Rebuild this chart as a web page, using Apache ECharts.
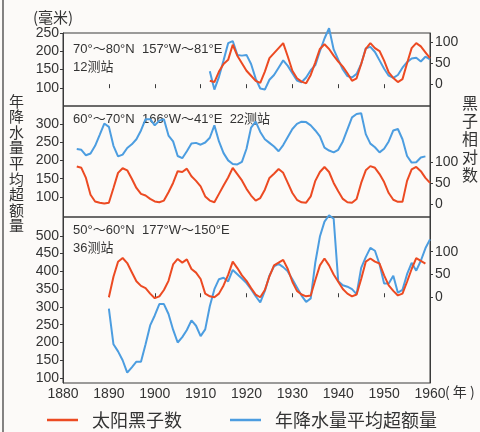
<!DOCTYPE html>
<html>
<head>
<meta charset="utf-8">
<script src="https://cdn.jsdelivr.net/npm/echarts@6/dist/echarts.min.js"></script>
<style>
  html, body { margin: 0; padding: 0; background: #fcfaf8; }
  #chart { width: 480px; height: 432px; }
</style>
</head>
<body>
<div id="chart"></div>
<script>
// ---- data: yearly values per latitude band ----
// 70°–80°N (12 stations), 1912–1960
const band1Start = 1912;
const band1Sunspots = [8, 5, 30, 48, 58, 94, 68, 50, 32, 20,
  8, 3, 30, 62, 74, 86, 98, 66, 32, 14,
  6, 2, 22, 52, 84, 95, 84, 68, 54, 42,
  26, 8, 14, 48, 84, 98, 86, 79, 56, 28,
  15, 5, 12, 50, 86, 98, 90, 76, 62];
const band1Rain = [145, 95, 130, 175, 222, 228, 190, 188, 190, 165,
  125, 98, 95, 122, 135, 155, 175, 160, 140, 120,
  115, 128, 148, 162, 200, 235, 263, 205, 177, 150,
  132, 128, 138, 165, 208, 212, 198, 175, 152, 133,
  127, 135, 155, 170, 180, 182, 172, 185, 178];

// 60°–70°N (22 stations), 1883–1960
const band2Start = 1883;
const band2Sunspots = [89, 86, 62, 22, 6, 3, 1, 3, 38, 74,
  85, 80, 60, 38, 24, 20, 12, 6, 4, 8,
  28, 50, 78, 76, 84, 66, 55, 42, 18, 8,
  4, 24, 44, 63, 86, 71, 56, 36, 20, 8,
  14, 34, 62, 72, 83, 74, 50, 26, 10, 4,
  3, 18, 55, 76, 88, 76, 50, 30, 12, 4,
  3, 12, 50, 80, 90, 86, 71, 52, 26, 10,
  5, 5, 55, 82, 88, 78, 62, 50];
const band2Rain = [231, 229, 214, 219, 240, 270, 301, 292, 240, 211,
  216, 234, 244, 258, 282, 313, 313, 296, 309, 313,
  268, 252, 212, 206, 225, 246, 248, 243, 249, 262,
  296, 252, 220, 200, 190, 189, 196, 232, 290, 306,
  278, 258, 248, 238, 225, 242, 264, 286, 300, 306,
  305, 296, 282, 266, 235, 227, 222, 229, 252, 285,
  318, 327, 329, 272, 246, 236, 222, 232, 252, 282,
  286, 258, 212, 194, 195, 208, 211];

// 50°–60°N (36 stations), 1890–1960
const band3Start = 1890;
const band3Sunspots = [0, 45, 78, 86, 75, 55, 35, 25, 20, 8,
  -2, 2, 16, 36, 72, 84, 76, 83, 62, 54,
  40, 8, 2, 0, 8, 26, 49, 78, 64, 48,
  36, 20, 6, 0, 16, 46, 70, 76, 82, 62,
  34, 14, 6, 2, 4, 38, 70, 85, 70, 50,
  34, 18, 8, 2, 6, 40, 78, 85, 78, 74,
  48, 26, 14, 4, 8, 34, 62, 86, 80, 74];
const band3Rain = [295, 195, 175, 150, 115, 130, 146, 146, 195, 248,
  276, 308, 308, 280, 236, 200, 215, 235, 262, 247,
  218, 237, 302, 350, 378, 382, 372, 404, 392, 380,
  367, 350, 330, 313, 345, 388, 414, 421, 412, 400,
  378, 355, 332, 314, 324, 425, 498, 540, 558, 548,
  372, 361, 357, 350, 336, 410, 440, 466, 458, 420,
  366, 366, 388, 340, 348, 392, 424, 402, 430, 465,
  490];

// axis tick labels
const yearTicks = [1880, 1890, 1900, 1910, 1920, 1930, 1940, 1950, 1960];
const sunspotTicks = [0, 50, 100];
const rain1Ticks = [100, 150, 200, 250];
const rain2Ticks = [100, 150, 200, 250, 300];
const rain3Ticks = [100, 150, 200, 250, 300, 350, 400, 450, 500];

const bandLabels = [
  ['70°～80°N  157°W～81°E', '12测站'],
  ['60°～70°N  166°W～41°E  22测站'],
  ['50°～60°N  177°W～150°E', '36测站']
];

const SUN_NAME = '太阳黑子数';
const RAIN_NAME = '年降水量平均超额量';
const RED = '#ec4a22';
const BLUE = '#4c9de0';
const INK = '#3a3a3a';
const NUM_FONT = '"Liberation Sans", Arial, sans-serif';
const CJK_FONT = '"Noto Sans CJK SC", sans-serif';

function pairs(start, values) {
  return values.map((v, i) => [start + i, v]);
}

// ---- layout of the three stacked panels ----
const plotLeft = 63, plotWidth = 367;
const panels = [
  { top: 33, height: 73, rain: [50, 250], sun: [-52, 122], rainTicks: rain1Ticks },
  { top: 106, height: 111, rain: [45, 349], sun: [-31, 233], rainTicks: rain2Ticks },
  { top: 217, height: 166, rain: [86, 553], sun: [-188, 176], rainTicks: rain3Ticks }
];

const grids = panels.map(p => ({
  left: plotLeft, top: p.top, width: plotWidth, height: p.height,
  show: true, borderColor: INK, borderWidth: 1, backgroundColor: 'transparent'
}));

const plain = v => String(v);

const xAxes = panels.map((p, i) => ({
  gridIndex: i, type: 'value', min: 1880, max: 1960, interval: 10,
  show: i !== 1,
  position: i === 0 ? 'top' : 'bottom',
  axisLine: { show: false },
  axisTick: { show: true, inside: true, length: 4, lineStyle: { color: INK } },
  axisLabel: {
    show: i === 2, margin: 4, fontSize: 14, color: '#333', fontFamily: NUM_FONT,
    showMinLabel: true, showMaxLabel: true, formatter: plain,
    customValues: yearTicks
  },
  splitLine: { show: false }
}));

const yAxes = [];
panels.forEach((p, i) => {
  yAxes.push({
    gridIndex: i, type: 'value', position: 'left', min: p.rain[0], max: p.rain[1],
    axisLine: { show: true, lineStyle: { color: INK } },
    axisTick: { show: true, length: 3, lineStyle: { color: INK }, customValues: p.rainTicks },
    axisLabel: { margin: 4, fontSize: 14, color: '#333', fontFamily: NUM_FONT, formatter: plain, customValues: p.rainTicks },
    splitLine: { show: false }
  });
  yAxes.push({
    gridIndex: i, type: 'value', position: 'right', min: p.sun[0], max: p.sun[1],
    axisLine: { show: true, lineStyle: { color: INK } },
    axisTick: { show: true, length: 3, lineStyle: { color: INK }, customValues: sunspotTicks },
    axisLabel: { margin: 5, fontSize: 14, color: '#333', fontFamily: NUM_FONT, formatter: plain, customValues: sunspotTicks },
    splitLine: { show: false }
  });
});

function lineSeries(name, color, panel, onRight, start, values) {
  return {
    name, type: 'line', xAxisIndex: panel, yAxisIndex: panel * 2 + (onRight ? 1 : 0),
    data: pairs(start, values), showSymbol: false, clip: false, silent: true,
    lineStyle: { color, width: 2 }, itemStyle: { color }, z: onRight ? 3 : 2
  };
}

const series = [
  lineSeries(RAIN_NAME, BLUE, 0, false, band1Start, band1Rain),
  lineSeries(SUN_NAME, RED, 0, true, band1Start, band1Sunspots),
  lineSeries(RAIN_NAME, BLUE, 1, false, band2Start, band2Rain),
  lineSeries(SUN_NAME, RED, 1, true, band2Start, band2Sunspots),
  lineSeries(RAIN_NAME, BLUE, 2, false, band3Start, band3Rain),
  lineSeries(SUN_NAME, RED, 2, true, band3Start, band3Sunspots)
];

const textStyleBase = { fill: '#333', fontFamily: NUM_FONT + ', ' + CJK_FONT };

const graphics = [
  // page edge rule
  { type: 'line', shape: { x1: 3, y1: 0, x2: 3, y2: 432 }, style: { stroke: '#333', lineWidth: 1.2 }, silent: true },
  { type: 'text', left: 33, top: 10, style: { text: '(毫米)', fontSize: 15, fontFamily: CJK_FONT, fill: '#333' } },
  { type: 'text', left: 445, top: 385, style: { text: '( 年 )', fontSize: 14, fontFamily: CJK_FONT, fill: '#333' } },
  { type: 'text', left: 9, top: 93, style: { text: RAIN_NAME.split('').join('\n'), fontSize: 15, lineHeight: 15.6, fontFamily: CJK_FONT, fill: '#333' } },
  { type: 'text', left: 462, top: 94, style: { text: '黑子相对数'.split('').join('\n'), fontSize: 16, lineHeight: 18, fontFamily: CJK_FONT, fill: '#333' } }
];
const labelTops = [40, 110, 221];
bandLabels.forEach((lines, i) => {
  graphics.push({
    type: 'text', left: 73, top: labelTops[i],
    style: Object.assign({ text: lines.join('\n'), fontSize: 13, lineHeight: 18 }, textStyleBase)
  });
});

const chart = echarts.init(document.getElementById('chart'), null, { renderer: 'canvas' });
chart.setOption({
  animation: false,
  backgroundColor: '#fcfaf8',
  grid: grids,
  xAxis: xAxes,
  yAxis: yAxes,
  series,
  legend: {
    data: [SUN_NAME, RAIN_NAME], left: 47, top: 411, padding: 0,
    icon: 'rect', itemWidth: 31, itemHeight: 2.5, itemGap: 48,
    textStyle: { fontSize: 18, color: '#333', fontFamily: CJK_FONT, padding: [0, 0, 0, 9] }
  },
  graphic: graphics
});
</script>
</body>
</html>
